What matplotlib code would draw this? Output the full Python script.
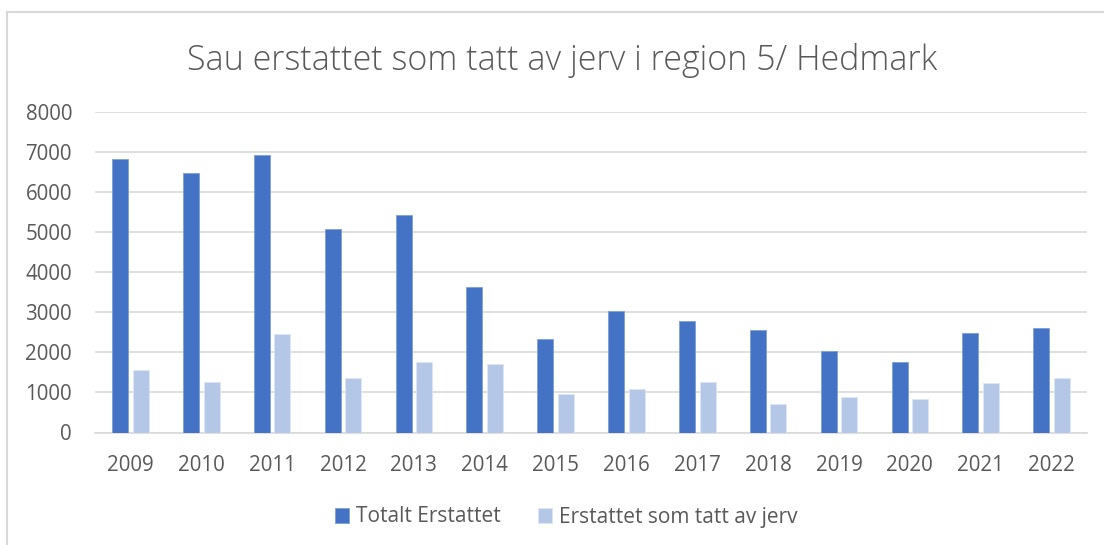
import matplotlib.pyplot as plt
import numpy as np
from matplotlib.patches import Rectangle

years = ['2009', '2010', '2011', '2012', '2013', '2014', '2015',
         '2016', '2017', '2018', '2019', '2020', '2021', '2022']
totalt = [6830, 6480, 6930, 5090, 5420, 3630, 2330,
          3040, 2780, 2550, 2030, 1760, 2480, 2620]
jerv = [1560, 1260, 2470, 1360, 1770, 1720, 960,
        1090, 1250, 715, 875, 825, 1240, 1365]

W, H = 1104, 545
plt.rcParams['font.family'] = ['Open Sans', 'DejaVu Sans']
fig = plt.figure(figsize=(W / 100, H / 100), dpi=100)

# outer chart frame (runs off the right/bottom of the picture)
fig.patches.append(Rectangle((7 / W, -0.1), 1.2, 1 - 12 / H + 0.1,
                             transform=fig.transFigure, fill=False,
                             edgecolor='#d9d9d9', linewidth=1.5))

# plot area in pixels: x 95..1087, y 112..432
ax = fig.add_axes([95 / W, 1 - 432.5 / H, (1087 - 95) / W, (432.5 - 112) / H])

x = np.arange(len(years))
bw = 0.226
ax.bar(x - 0.146, totalt, bw, color='#4472C4', edgecolor='#7f9fd6',
       linewidth=0.6, label='Totalt Erstattet', zorder=3)
ax.bar(x + 0.146, jerv, bw, color='#B4C7E7', edgecolor='#dde6f4',
       linewidth=0.6, label='Erstattet som tatt av jerv', zorder=3)

ax.set_xlim(-0.5, len(years) - 0.5)
ax.set_ylim(0, 8000)
ax.set_yticks(range(0, 8001, 1000))
ax.set_xticks(x)
ax.set_xticklabels(years)
ax.grid(axis='y', color='#d9d9d9', linewidth=1.2, zorder=0)
for s in ['top', 'right', 'left']:
    ax.spines[s].set_visible(False)
ax.spines['bottom'].set_color('#d9d9d9')
ax.spines['bottom'].set_linewidth(1.2)
ax.tick_params(axis='both', length=0, labelsize=14.8, labelcolor='#595959')
ax.tick_params(axis='y', pad=16.5)
ax.tick_params(axis='x', pad=16)

fig.text(562 / W, 1 - 60 / H, 'Sau erstattet som tatt av jerv i region 5/ Hedmark',
         ha='center', va='center', fontsize=24.5, color='#595959', fontweight='light')

ax.legend(loc='center', bbox_to_anchor=(566 / W, 1 - 517 / H),
          bbox_transform=fig.transFigure, ncol=2, frameon=False,
          fontsize=15, labelcolor='#595959', handlelength=0.7,
          handleheight=0.7, columnspacing=1.8, handletextpad=0.3)

fig.savefig('out.png', dpi=100)
